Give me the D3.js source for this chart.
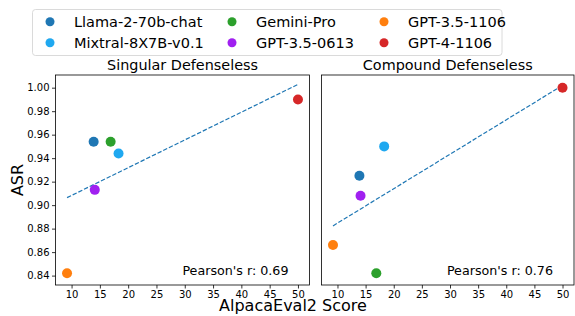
<!DOCTYPE html>
<html>
<head>
<meta charset="utf-8">
<script src="https://cdn.jsdelivr.net/npm/d3@7"></script>
<style>
  body { margin: 0; background: #fff; }
  svg { display: block; font-family: "DejaVu Sans", sans-serif; }
</style>
</head>
<body>
<script>
// models and their colours (legend order: column by column)
const models = ['Llama-2-70b-chat', 'Mixtral-8X7B-v0.1', 'Gemini-Pro', 'GPT-3.5-0613', 'GPT-3.5-1106', 'GPT-4-1106']
const colors = ['#1f77b4', '#1fa8f0', '#2ca02c', '#a020f0', '#ff7f0e', '#d62728']

// AlpacaEval2 score of each model
const alpacaScores = [13.9, 18.3, 16.9, 14.1, 9.2, 50.0]

// attack success rate per panel
const panelTitles = ['Singular Defenseless', 'Compound Defenseless']
const asrSingular = [0.954, 0.944, 0.954, 0.913, 0.842, 0.990]
const asrCompound = [0.925, 0.950, 0.842, 0.908, 0.866, 1.000]

const xTicks = [10, 15, 20, 25, 30, 35, 40, 45, 50]
const yTicks = [0.84, 0.86, 0.88, 0.90, 0.92, 0.94, 0.96, 0.98, 1.00]

const W = 575, H = 316
const svg = d3.select('body').append('svg').attr('width', W).attr('height', H)

const axTop = 75, axBottom = 285
const panels = [
  { left: 55.5, right: 309.5, asr: asrSingular, title: panelTitles[0] },
  { left: 321.5, right: 574, asr: asrCompound, title: panelTitles[1] }
]

// x domain: data range with 5% padding like matplotlib
const xmin = d3.min(alpacaScores), xmax = d3.max(alpacaScores)
const xpad = (xmax - xmin) * 0.05
const y = d3.scaleLinear().domain([0.832, 1.0108]).range([axBottom, axTop])

function fit(xs, ys) {
  const mx = d3.mean(xs), my = d3.mean(ys)
  let sxy = 0, sxx = 0, syy = 0
  xs.forEach((x, i) => {
    sxy += (x - mx) * (ys[i] - my)
    sxx += (x - mx) ** 2
    syy += (ys[i] - my) ** 2
  })
  const slope = sxy / sxx
  return { slope: slope, intercept: my - slope * mx, r: sxy / Math.sqrt(sxx * syy) }
}

panels.forEach((p, pi) => {
  const x = d3.scaleLinear().domain([xmin - xpad, xmax + xpad]).range([p.left, p.right])
  const g = svg.append('g')

  // x axis
  const xa = g.append('g').attr('transform', `translate(0,${axBottom})`)
    .call(d3.axisBottom(x).tickValues(xTicks).tickSize(3.5).tickPadding(2).tickFormat(d3.format('d')))
  xa.select('.domain').remove()
  xa.selectAll('text').attr('font-size', 10).attr('fill', '#000').attr('font-family', 'DejaVu Sans')
  xa.selectAll('line').attr('stroke', '#000').attr('stroke-width', 0.8)

  // y axis (only left panel has labels)
  if (pi === 0) {
    const ya = g.append('g').attr('transform', `translate(${p.left},0)`)
      .call(d3.axisLeft(y).tickValues(yTicks).tickSize(3.5).tickPadding(2.5).tickFormat(d3.format('.2f')))
    ya.select('.domain').remove()
    ya.selectAll('text').attr('font-size', 10).attr('fill', '#000').attr('font-family', 'DejaVu Sans')
    ya.selectAll('line').attr('stroke', '#000').attr('stroke-width', 0.8)
  }

  // regression line
  const f = fit(alpacaScores, p.asr)
  g.append('line')
    .attr('x1', x(xmin)).attr('y1', y(f.intercept + f.slope * xmin))
    .attr('x2', x(xmax)).attr('y2', y(f.intercept + f.slope * xmax))
    .attr('stroke', '#1f77b4').attr('stroke-width', 1.2)
    .attr('stroke-dasharray', '4.4,1.9')

  // points
  g.selectAll('circle').data(models).enter().append('circle')
    .attr('cx', (d, i) => x(alpacaScores[i]))
    .attr('cy', (d, i) => y(p.asr[i]))
    .attr('r', 5)
    .attr('fill', (d, i) => colors[i])

  // frame
  g.append('rect')
    .attr('x', p.left).attr('y', axTop)
    .attr('width', p.right - p.left).attr('height', axBottom - axTop)
    .attr('fill', 'none').attr('stroke', '#000').attr('stroke-width', 0.8)

  g.append('text')
    .attr('x', (p.left + p.right) / 2).attr('y', 69.5)
    .attr('text-anchor', 'middle').attr('font-size', 14.4)
    .text(p.title)

  g.append('text')
    .attr('x', p.right - 21).attr('y', 274.5)
    .attr('text-anchor', 'end').attr('font-size', 12.7)
    .text("Pearson's r: " + f.r.toFixed(2))
})

// axis labels
svg.append('text')
  .attr('transform', 'translate(23,180) rotate(-90)')
  .attr('text-anchor', 'middle').attr('font-size', 16)
  .text('ASR')
svg.append('text')
  .attr('x', 293).attr('y', 311)
  .attr('text-anchor', 'middle').attr('font-size', 16)
  .text('AlpacaEval2 Score')

// legend
const legend = svg.append('g')
legend.append('rect')
  .attr('x', 32.5).attr('y', 9.5).attr('width', 469.5).attr('height', 46)
  .attr('rx', 3).attr('fill', '#fff').attr('stroke', '#d0d0d0').attr('stroke-width', 0.8)
const colX = [50, 232, 384]
const rowY = [21.7, 42.7]
models.forEach((m, i) => {
  const cx = colX[Math.floor(i / 2)], cy = rowY[i % 2]
  legend.append('circle').attr('cx', cx).attr('cy', cy).attr('r', 4.5).attr('fill', colors[i])
  legend.append('text')
    .attr('x', cx + 24).attr('y', cy + 5.3)
    .attr('font-size', 14.5)
    .text(m)
})
</script>
</body>
</html>
